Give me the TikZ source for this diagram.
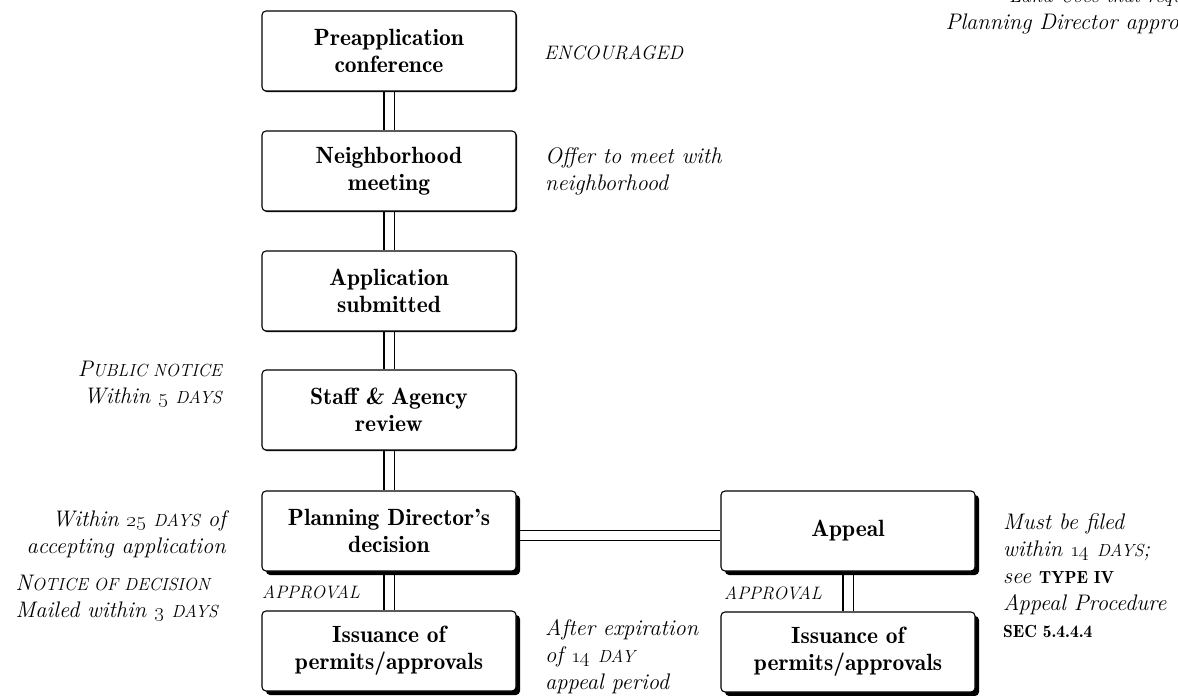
\documentclass[tikz,border=0pt]{standalone}
\usetikzlibrary{shadows,backgrounds}
\newcommand\boxfont{\fontsize{23.5}{27}\selectfont\fontseries{b}\selectfont}
\newcommand\notefont{\fontsize{22.5}{27}\selectfont\itshape}
\newcommand\sk[1]{{\fontsize{17.5}{17.5}\selectfont #1}}
\newcommand\skb[1]{{\fontsize{18}{18}\selectfont #1}}
\newcommand\osn[1]{\oldstylenums{#1}}
\tikzset{
  box/.style={draw, line width=1.1pt, rounded corners=4pt, fill=white,
    minimum width=254pt, minimum height=80pt, align=center, inner sep=0pt,
    font=\boxfont},
  lbox/.style={box, drop shadow={shadow xshift=1.2pt, shadow yshift=-1.2pt, fill=black, opacity=1}},
  sbox/.style={box, drop shadow={shadow xshift=4pt, shadow yshift=-4pt, fill=black, opacity=1}},
  dbl/.style={line width=1.3pt, double=white, double distance=9pt},
  note/.style={inner sep=0pt, font=\notefont},
}
\begin{document}
\begin{tikzpicture}[x=1pt,y=-1pt]
\useasboundingbox (0,0) rectangle (1178,696);
\clip (0,0) rectangle (1178,696);
% boxes
\node[lbox] (pre) at (389,51)  {Preapplication\\conference};
\node[lbox] (nb)  at (389,171) {Neighborhood\\meeting};
\node[lbox] (app) at (389,291) {Application\\submitted};
\node[lbox] (st)  at (389,410) {Staff {\itshape\&} Agency\\review};
\node[sbox] (pd)  at (389,531) {Planning Director's\\decision};
\node[sbox] (is1) at (389,651) {Issuance of\\permits/approvals};
\node[sbox] (ap)  at (848,531) {Appeal};
\node[sbox] (is2) at (848,652) {Issuance of\\permits/approvals};
% connectors
\begin{scope}[on background layer]
\draw[dbl] (pre.south) -- (nb.north);
\draw[dbl] (nb.south) -- (app.north);
\draw[dbl] (app.south) -- (st.north);
\draw[dbl] (st.south) -- (pd.north);
\draw[dbl] (pd.south) -- (is1.north);
\draw[dbl] (ap.south) -- (is2.north);
\draw[dbl] ([yshift=-4.5pt]pd.east) -- ([yshift=-4.5pt]ap.west);
\end{scope}
% notes
\node[note, anchor=base east, align=right] (land) at (1206,29)
  {\fontsize{20.5}{21}\selectfont Land Uses that require\\Planning Director approval};
\node[note, anchor=base west] (enc) at (544,59) {{\fontsize{19.5}{19.5}\selectfont ENCOURAGED}};
\node[note, anchor=base west, align=left] (offer) at (545,190)
  {Offer to meet with\\neighborhood};
\node[note, anchor=base east, align=right] (pub) at (222,403)
  {P\sk{UBLIC NOTICE}\\Within \osn{5} \sk{DAYS}};
\node[note, anchor=base east, align=right] (w25) at (226,553)
  {Within \osn{25} \sk{DAYS} of\\accepting application};
\node[note, anchor=base east, align=left] (nod) at (218,617)
  {N\sk{OTICE OF DECISION}\\Mailed within \osn{3} \sk{DAYS}};
\node[note, anchor=base west] (appr1) at (262,598) {\skb{APPROVAL}};
\node[note, anchor=base west] (appr2) at (724,599) {\skb{APPROVAL}};
\node[note, anchor=base west, align=left] (after) at (545,689)
  {After expiration\\of \osn{14} \sk{DAY}\\appeal period};
\node[note, anchor=base west, align=left] (must) at (1003,637)
  {Must be filed\\within \osn{14} \sk{DAYS};\\see {\upshape\fontseries{b}\selectfont\sk{TYPE IV}}\\Appeal Procedure\\{\upshape\fontseries{b}\selectfont\sk{SEC 5.4.4.4}}};
\end{tikzpicture}
\end{document}
